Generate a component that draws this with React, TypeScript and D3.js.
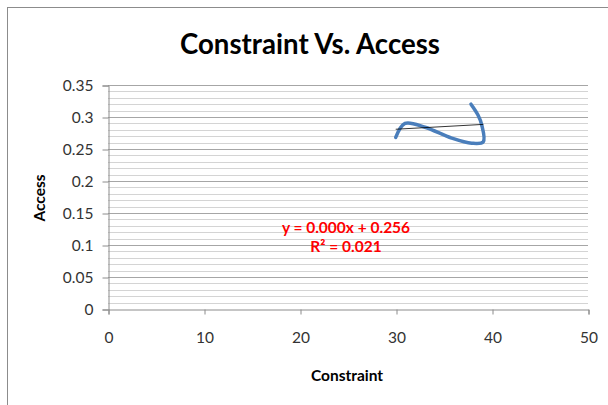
import React, { useRef, useEffect } from 'react';
import * as d3 from 'd3';

// series (Constraint, Access)
const constraint = [29.97, 30.94, 33.02, 35.8, 37.89, 39.09, 38.93, 38.54, 37.81];
const access = [0.268, 0.29, 0.284, 0.267, 0.259, 0.261, 0.2875, 0.303, 0.32];

const xTicks = [0, 10, 20, 30, 40, 50];
const yTicks = [0, 0.05, 0.1, 0.15, 0.2, 0.25, 0.3, 0.35];
const yTickLabels = ['0', '0.05', '0.1', '0.15', '0.2', '0.25', '0.3', '0.35'];

// linear trend shown on the chart
const trendIntercept = 0.256;
const trendSlope = 0.00083;
const equationLines = ['y = 0.000x + 0.256', 'R² = 0.021'];

const W = 608;
const H = 405;
const FONT = 'Lato, "Open Sans", sans-serif';

const App: React.FC = () => {
  const svgRef = useRef<SVGSVGElement>(null);

  useEffect(() => {
    if (!svgRef.current) return;
    const svg = d3.select(svgRef.current);
    svg.selectAll('*').remove();

    const x = d3.scaleLinear().domain([0, 50]).range([108, 588]);
    const y = d3.scaleLinear().domain([0, 0.35]).range([309, 85]);

    svg.append('rect').attr('width', W).attr('height', H).attr('fill', '#fff');

    // chart frame
    svg.append('rect')
      .attr('x', 7.5).attr('y', 7.5)
      .attr('width', 700).attr('height', 600)
      .attr('fill', 'none').attr('stroke', '#8c8c8c').attr('stroke-width', 1);

    // minor gridlines
    const minor = d3.range(0, 0.3501, 0.01).filter(v => Math.abs(Math.round(v * 100) % 5) !== 0);
    svg.append('g').selectAll('line').data(minor).join('line')
      .attr('x1', x(0)).attr('x2', x(50))
      .attr('y1', d => Math.round(y(d)) + 0.5).attr('y2', d => Math.round(y(d)) + 0.5)
      .attr('stroke', '#d4d4d4').attr('stroke-width', 1);

    // major gridlines
    svg.append('g').selectAll('line').data(yTicks.slice(1)).join('line')
      .attr('x1', x(0)).attr('x2', x(50))
      .attr('y1', d => Math.round(y(d)) + 0.5).attr('y2', d => Math.round(y(d)) + 0.5)
      .attr('stroke', '#a6a6a6').attr('stroke-width', 1);

    // y axis
    const yAxis = d3.axisLeft(y).tickValues(yTicks).tickSize(6).tickPadding(9)
      .tickFormat((d, i) => yTickLabels[i]);
    const gy = svg.append('g').attr('transform', `translate(${x(0) + 0.5},0.5)`).call(yAxis);
    gy.select('.domain').attr('stroke', '#8c8c8c');
    gy.selectAll('.tick line').attr('stroke', '#8c8c8c');
    gy.selectAll('.tick text').attr('font-family', FONT).attr('font-size', 15.5).attr('fill', '#333');

    // x axis
    const xAxis = d3.axisBottom(x).tickValues(xTicks).tickSize(5).tickPadding(17);
    const gx = svg.append('g').attr('transform', `translate(0.5,${y(0) + 0.5})`).call(xAxis);
    gx.select('.domain').attr('stroke', '#8c8c8c');
    gx.selectAll('.tick line').attr('stroke', '#8c8c8c');
    gx.selectAll('.tick text').attr('font-family', FONT).attr('font-size', 15.5).attr('fill', '#333');

    // series
    const pts: [number, number][] = constraint.map((c, i) => [c, access[i]]);
    const line = d3.line<[number, number]>()
      .x(d => x(d[0])).y(d => y(d[1]))
      .curve(d3.curveCatmullRom.alpha(0.5));
    svg.append('path')
      .datum(pts)
      .attr('d', line)
      .attr('fill', 'none')
      .attr('stroke', '#4a7ebb')
      .attr('stroke-width', 3.5)
      .attr('stroke-linecap', 'round');

    // trendline
    const xMin = d3.min(constraint) as number;
    const xMax = d3.max(constraint) as number;
    svg.append('line')
      .attr('x1', x(xMin)).attr('y1', y(trendIntercept + trendSlope * xMin))
      .attr('x2', x(xMax)).attr('y2', y(trendIntercept + trendSlope * xMax))
      .attr('stroke', '#000').attr('stroke-width', 0.8);

    // equation
    svg.append('g').selectAll('text').data(equationLines).join('text')
      .attr('x', 346).attr('y', (d, i) => 233 + i * 19)
      .attr('text-anchor', 'middle')
      .attr('font-family', FONT).attr('font-weight', 'bold').attr('font-size', 15.5)
      .attr('fill', '#ff0000')
      .text(d => d);

    // title
    svg.append('text')
      .attr('x', 310).attr('y', 54)
      .attr('text-anchor', 'middle')
      .attr('font-family', FONT).attr('font-weight', 'bold').attr('font-size', 28)
      .attr('textLength', 260).attr('lengthAdjust', 'spacingAndGlyphs')
      .text('Constraint Vs. Access');

    // axis titles
    svg.append('text')
      .attr('x', 347).attr('y', 381)
      .attr('text-anchor', 'middle')
      .attr('font-family', FONT).attr('font-weight', 'bold').attr('font-size', 15.5)
      .text('Constraint');

    svg.append('text')
      .attr('transform', 'translate(45,198) rotate(-90)')
      .attr('text-anchor', 'middle')
      .attr('font-family', FONT).attr('font-weight', 'bold').attr('font-size', 15.5)
      .text('Access');
  }, []);

  return (
    <svg ref={svgRef} width={W} height={H}
      style={{ position: 'absolute', left: 0, top: 0, display: 'block' }} />
  );
};

export default App;
